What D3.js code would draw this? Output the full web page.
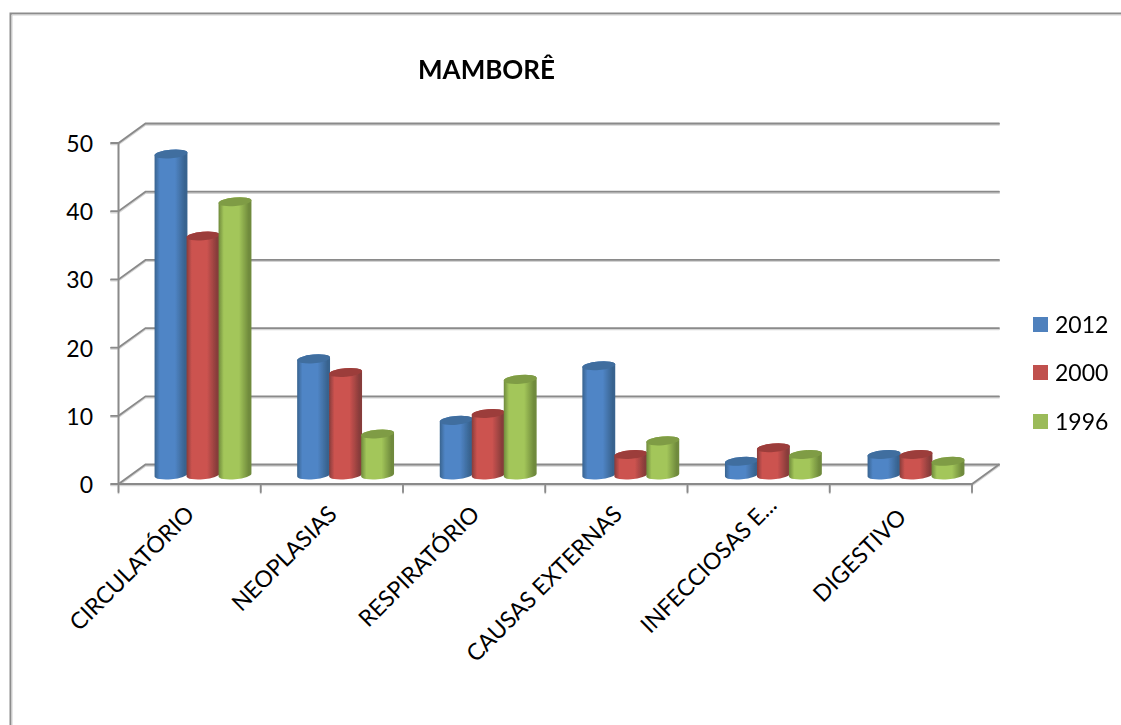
<!DOCTYPE html>
<html><head><meta charset="utf-8">
<script src="https://cdn.jsdelivr.net/npm/d3@7/dist/d3.min.js"></script>
<style>html,body{margin:0;padding:0;background:#fff}svg{display:block}text{font-family:Lato,Carlito,sans-serif;fill:#000}</style>
</head><body><svg id="c" width="1121" height="725"></svg>
<script>
const categories=["CIRCULATÓRIO","NEOPLASIAS","RESPIRATÓRIO","CAUSAS EXTERNAS","INFECCIOSAS E...","DIGESTIVO"];
const seriesNames=["2012","2000","1996"];
const values2012=[47,17,8,16,2,3];
const values2000=[35,15,9,3,4,3];
const values1996=[40,6,14,5,3,2];
const yTicks=[0,10,20,30,40,50];
const titleText="MAMBORÊ";
const seriesValues=[values2012,values2000,values1996];
const palette=[
 {edge:"#38638f",mid:"#5085c6",top:"#3f6e9f",leg:"#4f81bd"},
 {edge:"#873c3a",mid:"#cc5350",top:"#9c3e3b",leg:"#c0504d"},
 {edge:"#6f8a3c",mid:"#a3c65a",top:"#7f9c45",leg:"#9bbb59"}];
const svg=d3.select("#c");
const defs=svg.append("defs");
palette.forEach((p,i)=>{
 const g=defs.append("linearGradient").attr("id","g"+i).attr("x1",0).attr("x2",1).attr("y1",0).attr("y2",0);
 [[0,p.edge],[.16,p.mid],[.62,p.mid],[.92,p.edge],[1,p.edge]].forEach(s=>g.append("stop").attr("offset",s[0]).attr("stop-color",s[1]));
});
defs.append("filter").attr("id","soft").append("feGaussianBlur").attr("stdDeviation",.45);

// frame
const frame=svg.append("g");
[["#8c8c8c",2],["#cfcfcf",1]].forEach(([c,w],i)=>{
 frame.append("path").attr("d",`M${10.5+i*1.5},725V${13.5+i*1.5}H1121`).attr("fill","none").attr("stroke",c).attr("stroke-width",w);
});

const y=d3.scaleLinear().domain([0,50]).range([484,143]);
const yBar=d3.scaleLinear().domain([0,50]).range([475,133.5]);
const x=d3.scaleBand().domain(categories).range([131.7,987.3]).paddingInner(.3268).paddingOuter(.1634);
const xs=d3.scaleBand().domain(seriesNames).range([0,x.bandwidth()]);
const xLeft=118.5,xRight=972,dx=27,dy=-19.5;
const step=(xRight-xLeft)/categories.length;

const grid=svg.append("g").attr("fill","none").attr("stroke-linecap","round");
function wall(stroke,w,off){
 const g=grid.append("g").attr("stroke",stroke).attr("stroke-width",w).attr("transform",`translate(0,${off})`);
 yTicks.forEach(t=>{
  g.append("path").attr("d",`M${xLeft-7.5},${y(t)}H${xLeft}L${xLeft+dx},${y(t)+dy}H${xRight+dx}`);
 });
 g.append("path").attr("d",`M${xLeft},${y(0)}H${xRight}L${xRight+dx},${y(0)+dy}`);
 g.append("path").attr("d",`M${xLeft},${y(50)}V${y(0)}`);
 d3.range(categories.length+1).forEach(i=>{
  g.append("path").attr("d",`M${xLeft+i*step},${y(0)}v8`);
 });
}
wall("#d4d4d4",2,1.2);
wall("#8a8a8a",1.8,0);
grid.attr("filter","url(#soft)");

// y labels
svg.append("g").selectAll("text").data(yTicks).join("text")
 .attr("x",93).attr("y",d=>y(d)+1).attr("dy","0.35em").attr("text-anchor","end")
 .attr("font-size",23).text(d=>d);

// cylinders (slightly tilted ellipses, rising to the right)
const ry=4.3,tilt=-5,rx=16.5;
const rad=tilt*Math.PI/180,ex=rx*Math.cos(rad),ey=rx*Math.sin(rad);
const bars=svg.append("g").attr("filter","url(#soft)");
categories.forEach((c,ci)=>{
 seriesNames.forEach((s,si)=>{
  const v=seriesValues[si][ci];
  const bw=xs.bandwidth(),cx=x(c)+xs(s)+bw/2,yT=yBar(v),yB=yBar(0);
  bars.append("path")
   .attr("d",`M${cx-ex},${yT-ey}L${cx-ex},${yB-ey}A${rx},${ry} ${tilt} 0 0 ${cx+ex},${yB+ey}L${cx+ex},${yT+ey}A${rx},${ry} ${tilt} 0 0 ${cx-ex},${yT-ey}Z`)
   .attr("fill",`url(#g${si})`);
  bars.append("ellipse").attr("cx",cx).attr("cy",yT).attr("rx",rx).attr("ry",ry)
   .attr("transform",`rotate(${tilt},${cx},${yT})`).attr("fill",palette[si].top);
 });
});

// x labels; the truncated label sits further along its own slant in the reference
const labelShiftX=[0,0,0,0,12,-1];
const labelShiftY=[0,0,0,0,-9,3];
svg.append("g").selectAll("text").data(categories).join("text")
 .attr("text-anchor","end").attr("font-size",23)
 .attr("transform",(d,i)=>`translate(${x(d)+x.bandwidth()/2-13+labelShiftX[i]},${510+labelShiftY[i]}) rotate(-45)`)
 .attr("dy","0.35em").text(d=>d);

// title
svg.append("text").attr("x",486.5).attr("y",79).attr("text-anchor","middle").attr("font-size",26).attr("font-weight",700).text(titleText);

// legend
const leg=svg.append("g");
seriesNames.forEach((s,i)=>{
 const ly=[324.5,372.5,421.5][i];
 leg.append("rect").attr("x",1033).attr("y",ly-7.5).attr("width",15).attr("height",15).attr("fill",palette[i].leg);
 leg.append("text").attr("x",1055).attr("y",ly).attr("dy","0.35em").attr("font-size",23).text(s);
});
</script></body></html>
